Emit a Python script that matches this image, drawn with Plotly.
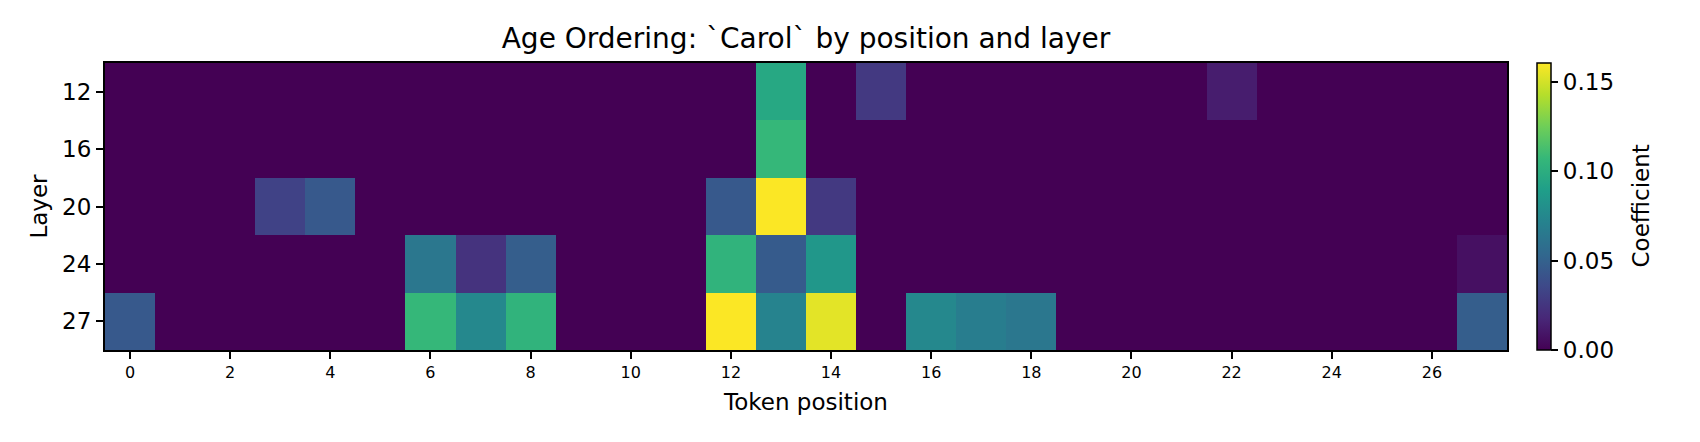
import plotly.graph_objects as go

positions = list(range(28))
layers = ["12", "16", "20", "24", "27"]

row_12 = [0, 0, 0, 0, 0, 0, 0, 0, 0, 0, 0, 0, 0, 0.096, 0, 0.027, 0, 0, 0, 0, 0, 0, 0.013, 0, 0, 0, 0, 0]
row_16 = [0, 0, 0, 0, 0, 0, 0, 0, 0, 0, 0, 0, 0, 0.107, 0, 0, 0, 0, 0, 0, 0, 0, 0, 0, 0, 0, 0, 0]
row_20 = [0, 0, 0, 0.032, 0.045, 0, 0, 0, 0, 0, 0, 0, 0.045, 0.160, 0.027, 0, 0, 0, 0, 0, 0, 0, 0, 0, 0, 0, 0, 0]
row_24 = [0, 0, 0, 0, 0, 0, 0.064, 0.024, 0.048, 0, 0, 0, 0.104, 0.046, 0.085, 0, 0, 0, 0, 0, 0, 0, 0, 0, 0, 0, 0, 0.007]
row_27 = [0.045, 0, 0, 0, 0, 0, 0.107, 0.075, 0.104, 0, 0, 0, 0.160, 0.072, 0.154, 0, 0.075, 0.068, 0.064, 0, 0, 0, 0, 0, 0, 0, 0, 0.048]

z = [row_12, row_16, row_20, row_24, row_27]

x_ticks = list(range(0, 28, 2))
cbar_ticks = [0.0, 0.05, 0.10, 0.15]
z_max = 0.1605

FONT = "DejaVu Sans"

fig = go.Figure(
    go.Heatmap(
        z=z,
        x=positions,
        y=layers,
        colorscale="Viridis",
        zmin=0,
        zmax=z_max,
        colorbar=dict(
            x=1.0214,
            xanchor="left",
            xref="paper",
            xpad=0,
            ypad=0,
            y=0.5,
            yanchor="middle",
            len=1.0,
            lenmode="fraction",
            thickness=14,
            outlinecolor="black",
            outlinewidth=1.5,
            tickvals=cbar_ticks,
            ticktext=[f"{v:.2f}" for v in cbar_ticks],
            ticks="outside",
            ticklen=7,
            tickwidth=1.5,
            tickcolor="black",
            tickfont=dict(family=FONT, size=23, color="black"),
        ),
    )
)

fig.add_annotation(
    text="Coefficient",
    textangle=-90,
    x=(1640 - 105) / 1402,
    xref="paper",
    xanchor="center",
    y=0.5,
    yref="paper",
    yanchor="middle",
    showarrow=False,
    font=dict(family=FONT, size=23, color="black"),
)

fig.update_layout(
    width=1700,
    height=442,
    margin=dict(l=105, r=193, t=63, b=92),
    paper_bgcolor="white",
    plot_bgcolor="white",
    font=dict(family=FONT, color="black"),
    title=dict(
        text="Age Ordering: `Carol` by position and layer",
        x=(105 + 1507) / 2 / 1700,
        xanchor="center",
        xref="container",
        y=1 - 38 / 442,
        yanchor="middle",
        yref="container",
        font=dict(family=FONT, size=28, color="black"),
    ),
    xaxis=dict(
        range=[-0.5, 27.5],
        tickvals=x_ticks,
        ticktext=[str(v) for v in x_ticks],
        tickfont=dict(family=FONT, size=16, color="black"),
        ticks="outside",
        ticklen=7,
        tickwidth=1.5,
        tickcolor="black",
        showline=True,
        linecolor="black",
        linewidth=2,
        mirror=True,
        showgrid=False,
        zeroline=False,
        title=dict(text="Token position", standoff=13,
                   font=dict(family=FONT, size=23, color="black")),
    ),
    yaxis=dict(
        type="category",
        autorange="reversed",
        tickfont=dict(family=FONT, size=23, color="black"),
        ticks="outside",
        ticklen=7,
        tickwidth=1.5,
        tickcolor="black",
        showline=True,
        linecolor="black",
        linewidth=2,
        mirror=True,
        showgrid=False,
        zeroline=False,
        title=dict(text="Layer", standoff=8,
                   font=dict(family=FONT, size=23, color="black")),
    ),
)

fig.write_html("out.html")
